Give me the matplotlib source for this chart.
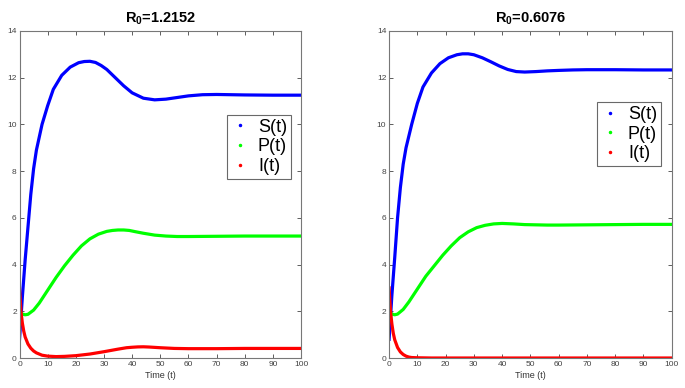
import numpy as np
import matplotlib.pyplot as plt
from matplotlib.lines import Line2D

plt.rcParams['font.family'] = ['Liberation Sans', 'DejaVu Sans']
plt.rcParams['mathtext.fontset'] = 'custom'
plt.rcParams['mathtext.rm'] = 'Liberation Sans'
plt.rcParams['mathtext.bf'] = 'Liberation Sans:bold'

# ---- left panel, R0 = 1.2152
tS1 = [0, 1, 2, 3, 4, 5, 6, 8, 10, 12, 15, 18, 21, 23, 25, 27, 29, 31, 34, 37, 40, 44, 48, 52, 56, 60, 65, 70, 80, 90, 100]
S1 = [0.8, 2.6, 4.2, 5.6, 7.0, 8.1, 8.9, 10.0, 10.8, 11.5, 12.1, 12.45, 12.64, 12.69, 12.7, 12.65, 12.52, 12.35, 12.0,
      11.65, 11.35, 11.12, 11.05, 11.08, 11.15, 11.22, 11.27, 11.28, 11.26, 11.25, 11.25]
tP1 = [0, 1, 2, 3, 5, 7, 10, 13, 16, 19, 22, 25, 28, 31, 33, 35, 37, 39, 41, 44, 48, 52, 56, 60, 70, 80, 90, 100]
P1 = [2.0, 1.88, 1.85, 1.87, 2.05, 2.35, 2.9, 3.45, 3.95, 4.4, 4.8, 5.1, 5.3, 5.42, 5.46, 5.48, 5.48, 5.46, 5.41,
      5.34, 5.26, 5.22, 5.2, 5.2, 5.21, 5.22, 5.22, 5.22]
tI1 = [0, 0.5, 1, 1.5, 2, 3, 4, 5, 6, 8, 10, 13, 16, 20, 25, 30, 35, 38, 40, 42, 44, 46, 50, 55, 60, 70, 80, 100]
I1 = [3.0, 2.0, 1.5, 1.15, 0.9, 0.6, 0.42, 0.3, 0.22, 0.12, 0.08, 0.06, 0.07, 0.1, 0.17, 0.27, 0.38, 0.44, 0.46,
      0.475, 0.48, 0.47, 0.44, 0.41, 0.4, 0.4, 0.41, 0.41]

# ---- right panel, R0 = 0.6076
tS2 = [0, 1, 2, 3, 4, 5, 6, 8, 10, 12, 15, 18, 21, 24, 26, 28, 30, 33, 36, 39, 42, 45, 48, 52, 56, 60, 65, 70, 80, 90, 100]
S2 = [0.8, 2.7, 4.3, 6.0, 7.3, 8.3, 9.0, 10.0, 10.9, 11.6, 12.2, 12.6, 12.85, 12.98, 13.02, 13.02, 12.98, 12.85,
      12.68, 12.5, 12.35, 12.26, 12.24, 12.26, 12.29, 12.31, 12.33, 12.34, 12.34, 12.33, 12.33]
tP2 = [0, 1, 2, 3, 5, 7, 10, 13, 16, 19, 22, 25, 28, 31, 34, 37, 40, 44, 48, 52, 56, 60, 70, 80, 90, 100]
P2 = [2.0, 1.88, 1.85, 1.88, 2.08, 2.4, 2.95, 3.5, 3.95, 4.4, 4.8, 5.15, 5.4, 5.58, 5.68, 5.74, 5.76, 5.74, 5.71,
      5.7, 5.69, 5.69, 5.7, 5.71, 5.72, 5.72]
tI2 = [0, 0.5, 1, 1.5, 2, 3, 4, 5, 6, 7, 8, 10, 15, 100]
I2 = [3.0, 2.0, 1.45, 1.05, 0.78, 0.45, 0.26, 0.15, 0.08, 0.04, 0.02, 0.01, 0.0, 0.0]

titles = ["$\\mathbf{R_0}$=1.2152", "$\\mathbf{R_0}$=0.6076"]
legend_anchor = [(0.963, 0.743), (0.961, 0.782)]

fig = plt.figure(figsize=(6.85, 3.88), dpi=100)
ax1 = fig.add_axes([0.0285, 0.0773, 0.411, 0.843])
ax2 = fig.add_axes([0.568, 0.0773, 0.4125, 0.843])

data = [(tS1, S1, tP1, P1, tI1, I1), (tS2, S2, tP2, P2, tI2, I2)]
for k, ax in enumerate([ax1, ax2]):
    tS, S, tP, P, tI, I = data[k]
    ax.plot(tS, S, color=(0, 0, 1), lw=2.3)
    ax.plot(tP, P, color=(0, 1, 0), lw=2.3)
    ax.plot(tI, I, color=(1, 0, 0), lw=2.3)
    ax.set_xlim(0, 100)
    ax.set_ylim(0, 14)
    ax.set_xticks(np.arange(0, 101, 10))
    ax.set_yticks(np.arange(0, 15, 2))
    ax.tick_params(direction='in', top=True, right=True, labelsize=6, colors='#444444',
                   length=3, width=0.6, pad=2)
    for sp in ax.spines.values():
        sp.set_color('#777777')
        sp.set_linewidth(0.8)
    ax.set_xlabel("Time (t)", fontsize=6.5, color='#333333', labelpad=2)
    ax.set_title(titles[k], fontsize=10.5, fontweight='bold', pad=6)
    handles = [Line2D([], [], color=c, marker='.', markersize=3, ls='none')
               for c in [(0, 0, 1), (0, 1, 0), (1, 0, 0)]]
    leg = ax.legend(handles, ["S(t)", "P(t)", "I(t)"], loc='upper right',
                    bbox_to_anchor=legend_anchor[k], fontsize=13, frameon=True, fancybox=False,
                    borderpad=0.2, labelspacing=0.15, handlelength=1.0, handletextpad=0.5,
                    borderaxespad=0)
    leg.get_frame().set_edgecolor('#444444')
    leg.get_frame().set_linewidth(0.8)

fig.savefig("out.png", dpi=100)
